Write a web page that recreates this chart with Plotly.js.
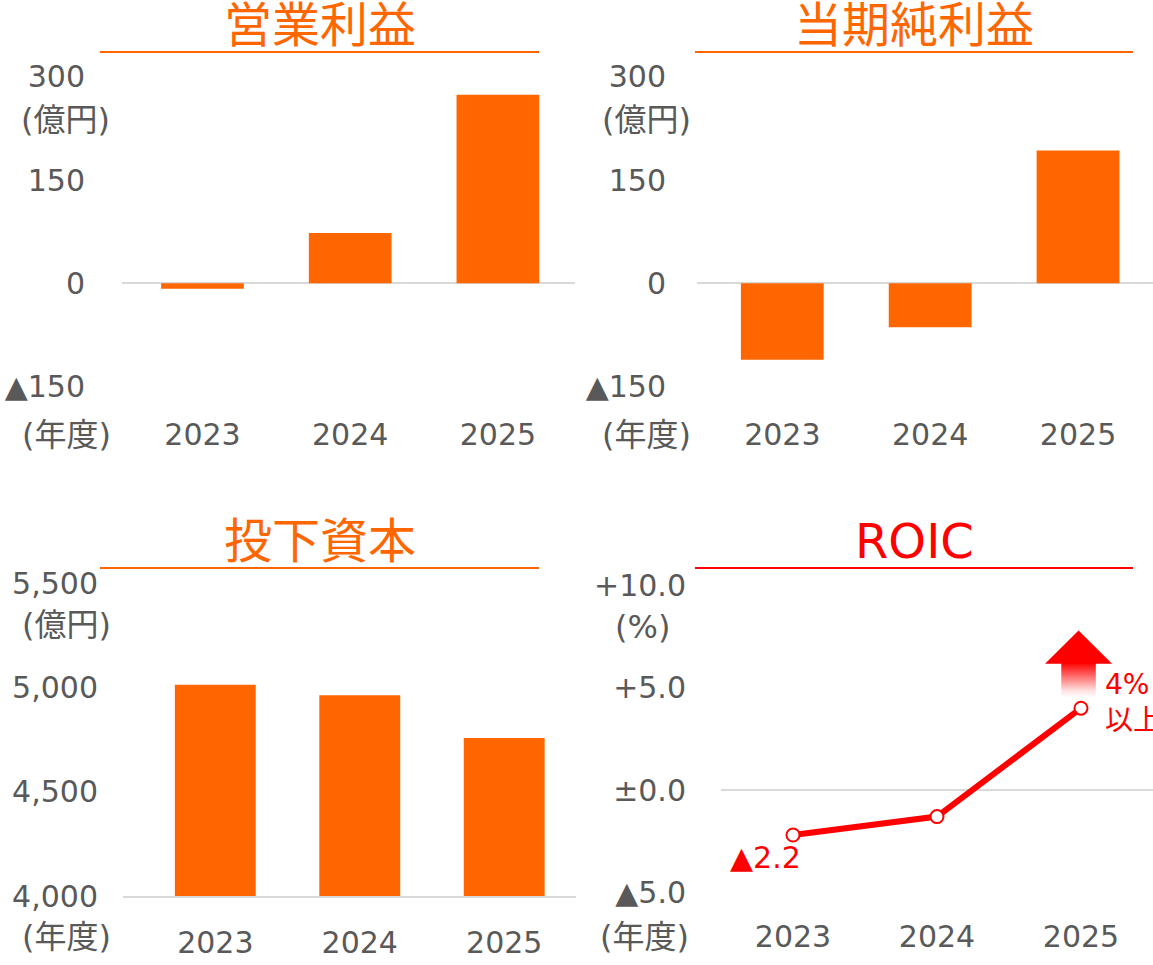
<!DOCTYPE html>
<html>
<head>
<meta charset="utf-8">
<script src="https://cdn.plot.ly/plotly-3.0.1.min.js"></script>
<style>
html,body{margin:0;padding:0;background:#fff;}
#chart{width:1153px;height:965px;}
</style>
</head>
<body>
<div id="chart"></div>
<script>
// ---- data ----
const years = ['2023', '2024', '2025'];
const yearNums = [2023, 2024, 2025];
const operatingProfit = [-8, 73, 274];      // 営業利益 (億円)
const netIncome = [-111, -64, 193];         // 当期純利益 (億円)
const investedCapital = [5015, 4965, 4760]; // 投下資本 (億円)
const roic = [-2.2, -1.3, 4.0];             // ROIC (%)

const profitTickVals = [-150, 0, 150, 300];
const profitTickText = ['▲150', '0', '150', '300'];
const capitalTickVals = [4000, 4500, 5000, 5500];
const capitalTickText = ['4,000', '4,500', '5,000', '5,500'];
const roicTickVals = [-5, 0, 5, 10];
const roicTickText = ['▲5.0', '±0.0', '+5.0', '+10.0'];

const titles = ['営業利益', '当期純利益', '投下資本', 'ROIC'];
const unitOku = '(億円)';
const unitPct = '(%)';
const unitYear = '(年度)';
const roicTargetText = '4%<br>以上';

// ---- styling ----
const W = 1153, H = 965;
const ORANGE = '#FF6600';
const RED = '#FF0000';
const GREY = '#595959';
const ZERO = '#d9d9d9';
const FONT = 'DejaVu Sans, "Noto Sans CJK JP", sans-serif';
const px = v => v / W;
const py = v => 1 - v / H;
const tickFont = {family: FONT, size: 30, color: GREY};

function xAxis(domain, range, anchor, standoff, extra) {
  return Object.assign({
    domain: domain, range: range, anchor: anchor, type: 'linear',
    tickvals: yearNums, ticktext: years, ticks: '', showgrid: false,
    zeroline: false, showline: false, tickfont: tickFont,
    ticklabelstandoff: standoff, fixedrange: true
  }, extra || {});
}
function yAxis(domain, range, anchor, vals, text, standoff, extra) {
  return Object.assign({
    domain: domain, range: range, anchor: anchor, type: 'linear',
    tickvals: vals, ticktext: text, ticks: '', showgrid: false,
    zeroline: true, zerolinecolor: ZERO, zerolinewidth: 2,
    showline: false, tickfont: tickFont, ticklabelstandoff: standoff,
    fixedrange: true
  }, extra || {});
}

const barStyle = {color: ORANGE, line: {width: 0}};
const traces = [
  {type: 'bar', x: yearNums, y: operatingProfit, xaxis: 'x', yaxis: 'y',
   width: 0.56, marker: barStyle, hoverinfo: 'skip'},
  {type: 'bar', x: yearNums, y: netIncome, xaxis: 'x2', yaxis: 'y2',
   width: 0.56, marker: barStyle, hoverinfo: 'skip'},
  {type: 'bar', x: yearNums, y: investedCapital, xaxis: 'x3', yaxis: 'y3',
   width: 0.56, marker: barStyle, hoverinfo: 'skip'},
];

// arrow above the 2025 ROIC target, anchored on the data point
const ax = yearNums[2] - 0.017, ay = roic[2];
traces.push({
  type: 'scatter', mode: 'lines', xaxis: 'x4', yaxis: 'y4', hoverinfo: 'skip',
  x: [ax - 0.12, ax + 0.12, ax + 0.12, ax - 0.12, ax - 0.12],
  y: [ay + 0.52, ay + 0.52, ay + 2.22, ay + 2.22, ay + 0.52],
  fill: 'toself', line: {width: 0, color: 'rgba(0,0,0,0)'},
  fillgradient: {type: 'vertical',
    colorscale: [[0, 'rgb(255,255,255)'], [0.2, 'rgb(255,225,225)'], [1, 'rgb(255,0,0)']]}
});
traces.push({
  type: 'scatter', mode: 'lines', xaxis: 'x4', yaxis: 'y4', hoverinfo: 'skip',
  x: [ax - 0.233, ax + 0.233, ax, ax - 0.233],
  y: [ay + 2.17, ay + 2.17, ay + 3.8, ay + 2.17],
  fill: 'toself', fillcolor: RED, line: {width: 0, color: RED}
});
traces.push({
  type: 'scatter', mode: 'lines+markers', x: yearNums, y: roic,
  xaxis: 'x4', yaxis: 'y4', hoverinfo: 'skip',
  line: {color: RED, width: 6},
  marker: {symbol: 'circle', size: 13, color: '#ffffff', line: {color: RED, width: 2}}
});

const shapes = [
  {type: 'line', xref: 'paper', yref: 'paper', x0: px(100), x1: px(539), y0: py(52), y1: py(52), line: {color: ORANGE, width: 2}},
  {type: 'line', xref: 'paper', yref: 'paper', x0: px(695), x1: px(1133), y0: py(52), y1: py(52), line: {color: ORANGE, width: 2}},
  {type: 'line', xref: 'paper', yref: 'paper', x0: px(100), x1: px(539), y0: py(568), y1: py(568), line: {color: ORANGE, width: 2}},
  {type: 'line', xref: 'paper', yref: 'paper', x0: px(695), x1: px(1133), y0: py(568), y1: py(568), line: {color: RED, width: 2}},
];

function titleAnn(text, cx, cy, color) {
  return {text: text, xref: 'paper', yref: 'paper', x: px(cx), y: py(cy),
    xanchor: 'center', yanchor: 'middle', showarrow: false,
    font: {family: FONT, size: 48, color: color}};
}
function unitAnn(text, cx, cy) {
  return {text: text, xref: 'paper', yref: 'paper', x: px(cx), y: py(cy),
    xanchor: 'center', yanchor: 'middle', showarrow: false,
    font: {family: FONT, size: 32, color: GREY}};
}

const annotations = [
  titleAnn(titles[0], 320, 25, ORANGE),
  titleAnn(titles[1], 914, 25, ORANGE),
  titleAnn(titles[2], 320, 541, ORANGE),
  titleAnn(titles[3], 914, 541, RED),
  unitAnn(unitOku, 65, 120), unitAnn(unitYear, 66, 435),
  unitAnn(unitOku, 646, 120), unitAnn(unitYear, 646, 435),
  unitAnn(unitOku, 66, 625), unitAnn(unitYear, 66, 937),
  unitAnn(unitPct, 643, 627), unitAnn(unitYear, 644, 937),
  {text: '▲' + Math.abs(roic[0]).toFixed(1), xref: 'x4', yref: 'y4',
   x: yearNums[0], y: roic[0], xshift: -28, yshift: -22, showarrow: false,
   xanchor: 'center', yanchor: 'middle', font: {family: FONT, size: 30, color: RED}},
  {text: roicTargetText, xref: 'x4', yref: 'y4', x: yearNums[2], y: roic[2],
   xshift: 22, yshift: 6, showarrow: false, xanchor: 'left', yanchor: 'middle',
   align: 'left', font: {family: FONT, size: 28, color: RED}},
];

const layout = {
  width: W, height: H, margin: {l: 0, r: 0, t: 0, b: 0, pad: 0},
  paper_bgcolor: '#ffffff', plot_bgcolor: 'rgba(0,0,0,0)',
  showlegend: false, font: {family: FONT, color: GREY},
  bargap: 0.44,
  xaxis: xAxis([px(122), px(575)], [2023 - 0.545, 2023 + 2.522], 'y', 14),
  yaxis: yAxis([py(400), py(60)], [-169.6, 324.6], 'x', profitTickVals, profitTickText, 36),
  xaxis2: xAxis([px(697), 1], [2023 - 0.577, 2023 + 2.507], 'y2', 14),
  yaxis2: yAxis([py(400), py(60)], [-169.6, 324.6], 'x2', profitTickVals, profitTickText, 30),
  xaxis3: xAxis([px(123), px(576)], [2023 - 0.639, 2023 + 2.497], 'y3', 19,
                {showline: true, linecolor: ZERO, linewidth: 2}),
  yaxis3: yAxis([py(896), py(560)], [4000, 5615], 'x3', capitalTickVals, capitalTickText, 24,
                {zeroline: false}),
  xaxis4: xAxis([px(721), 1], [2022.5, 2025.5], 'y4', 21),
  yaxis4: yAxis([py(895), py(560)], [-5.134, 11.247], 'x4', roicTickVals, roicTickText, 34),
  shapes: shapes,
  annotations: annotations
};

Plotly.newPlot('chart', traces, layout, {staticPlot: true, displayModeBar: false});
</script>
</body>
</html>
